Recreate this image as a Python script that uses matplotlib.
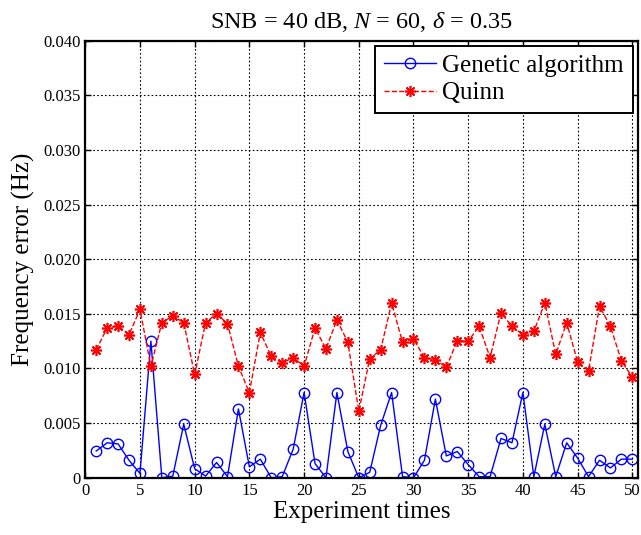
import matplotlib
matplotlib.use('Agg')
import matplotlib.pyplot as plt
from matplotlib.ticker import FuncFormatter

plt.rcParams['font.family'] = ['Liberation Serif', 'DejaVu Serif']
plt.rcParams['mathtext.fontset'] = 'custom'
plt.rcParams['mathtext.it'] = 'Liberation Serif:italic'
plt.rcParams['mathtext.rm'] = 'Liberation Serif'

# experiment index
trials = list(range(1, 51))

# frequency error of the genetic algorithm (Hz)
ga_err = [0.00245, 0.0032, 0.0031, 0.0016, 0.0004, 0.0125, 0.0, 0.00015, 0.0049, 0.00083,
          0.00015, 0.0014, 0.0001, 0.0063, 0.0010, 0.0017, 0.0, 0.0001, 0.0026, 0.0078,
          0.0013, 0.0, 0.0078, 0.0024, 0.0, 0.0005, 0.0048, 0.0078, 0.0001, 0.0,
          0.0016, 0.0072, 0.0020, 0.0024, 0.0012, 0.0001, 0.0001, 0.0036, 0.0032, 0.0078,
          0.0001, 0.0049, 0.0001, 0.0032, 0.0018, 0.0001, 0.0016, 0.0009, 0.0017, 0.0017]

# frequency error of the Quinn estimator (Hz)
quinn_err = [0.0117, 0.0137, 0.0139, 0.0131, 0.0154, 0.0102, 0.0142, 0.0148, 0.0142, 0.00945,
             0.0142, 0.0150, 0.0141, 0.0102, 0.0078, 0.0133, 0.0111, 0.0105, 0.0110, 0.0102,
             0.0137, 0.0118, 0.01445, 0.0124, 0.0061, 0.0109, 0.0117, 0.0160, 0.0124, 0.0127,
             0.0110, 0.0108, 0.0101, 0.01255, 0.0125, 0.01385, 0.0110, 0.0151, 0.01385, 0.0131,
             0.0134, 0.0160, 0.0113, 0.0142, 0.0106, 0.0098, 0.0157, 0.01385, 0.0107, 0.0092]

xticks = list(range(0, 51, 5))
yticks = [0, 0.005, 0.010, 0.015, 0.020, 0.025, 0.030, 0.035, 0.040]

fig = plt.figure(figsize=(6.41, 5.35), dpi=100)
ax = fig.add_axes([0.133, 0.107, 0.862, 0.817])

ax.plot(trials, ga_err, color='b', linestyle='-', linewidth=1.0, marker='o',
        markersize=7.5, markerfacecolor='none', markeredgecolor='b',
        markeredgewidth=1.0, label='Genetic algorithm')
ax.plot(trials, quinn_err, color='r', linestyle='--', linewidth=1.0, marker=(8, 2, 0),
        markersize=8, markeredgecolor='r', markeredgewidth=1.2, label='Quinn')

ax.set_xlim(0, 50.5)
ax.set_ylim(0, 0.04)
ax.set_xticks(xticks)
ax.set_yticks(yticks)
ax.yaxis.set_major_formatter(FuncFormatter(lambda v, p: '0' if v == 0 else '%.3f' % v))

ax.grid(True, color='k', linestyle=(0, (1.5, 2)), linewidth=0.8)
ax.tick_params(direction='in', top=True, right=True, labelsize=12, length=4, width=1)
for s in ax.spines.values():
    s.set_linewidth(1.6)

ax.set_xlabel('Experiment times', fontsize=18, labelpad=2)
ax.set_ylabel('Frequency error (Hz)', fontsize=18, labelpad=6)
ax.set_title(r'SNB = 40 dB, $N$ = 60, $\delta$ = 0.35', fontsize=17.5, pad=9)

leg = ax.legend(loc='upper right', fontsize=18, fancybox=False, framealpha=1,
                edgecolor='k', borderpad=0.35, labelspacing=0.2, handlelength=2.1,
                handletextpad=0.25, borderaxespad=0.2)
leg.get_frame().set_linewidth(1.4)

fig.savefig('out.png', dpi=100)
